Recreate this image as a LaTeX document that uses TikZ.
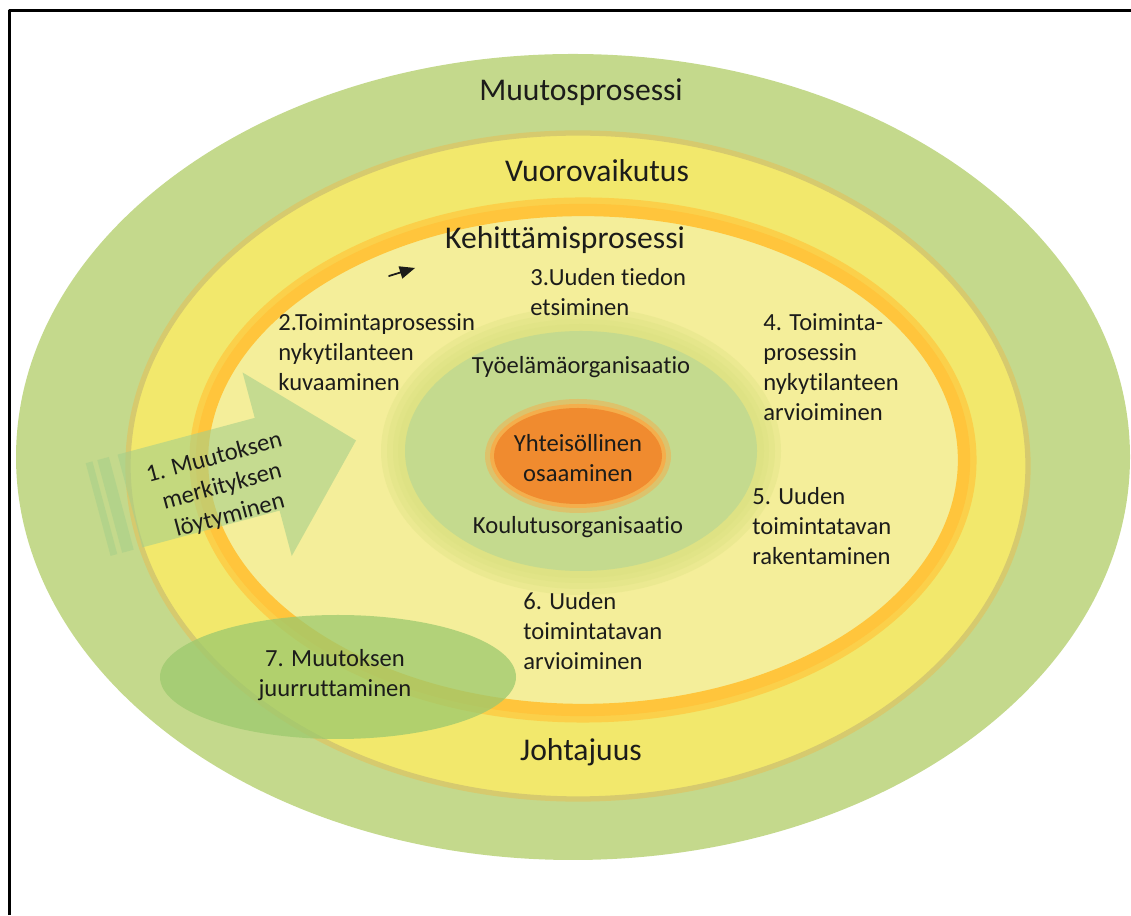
\documentclass[tikz,border=0pt]{standalone}
\usepackage{fontspec}
\setmainfont{Carlito}[Ligatures=NoCommon]
\usepackage{pgf,tikz}
\usetikzlibrary{arrows}
\usetikzlibrary{positioning}

\definecolor{outergreen}{HTML}{C4D98C}
\definecolor{olivering}{HTML}{D6CA6E}
\definecolor{bandyellow}{HTML}{F2E86C}
\definecolor{ringorange}{HTML}{FFC53C}
\definecolor{lightyellow}{HTML}{F4EE9A}
\definecolor{halogreen}{HTML}{D8E07E}
\definecolor{innergreen}{HTML}{C4DA8E}
\definecolor{coreorange}{HTML}{F08B2F}
\definecolor{coreglow}{HTML}{F4AE4C}
\definecolor{arrowgreen}{HTML}{A6CF8A}
\definecolor{rootgreen}{HTML}{9CC96E}
\definecolor{labeltext}{HTML}{1C1C1A}

\tikzset{
  bandlabel/.style={font=\fontsize{18}{22}\selectfont,text=labeltext,inner sep=0pt},
  stagelabel/.style={font=\fontsize{14}{17}\selectfont,text=labeltext,align=left,inner sep=0pt,anchor=west},
  orglabel/.style={font=\fontsize{14}{17}\selectfont,text=labeltext,align=center,inner sep=0pt}
}

\begin{document}
\begin{tikzpicture}[line cap=round,line join=round,>=triangle 45,x=0.02cm,y=0.02cm]
\useasboundingbox (0,0) rectangle (1131,915);
\draw[line width=0.06cm,line cap=butt] (9.5,0) -- (9.5,904) -- (1131,904);
% nested rings
\fill[outergreen] (573,458) ellipse [x radius=557, y radius=403];
\draw[olivering,line width=3,fill=bandyellow] (578,449) ellipse [x radius=450, y radius=333];
\draw[ringorange!70!bandyellow,line width=12] (583,455) ellipse [x radius=383, y radius=252];
\draw[ringorange,line width=7,fill=lightyellow] (583,455) ellipse [x radius=381, y radius=250];
% organisations and core
\foreach \r in {22,16,10,5}
  \fill[halogreen,opacity=0.3] (581,464) ellipse [x radius=178+\r, y radius=122+\r];
\fill[innergreen] (581,464) ellipse [x radius=176, y radius=120];
\fill[coreglow,opacity=0.5] (578,459) ellipse [x radius=93, y radius=57];
\fill[coreglow] (578,459) ellipse [x radius=88, y radius=52];
\fill[coreorange] (578,459) ellipse [x radius=84, y radius=48];
% stage 1 arrow
\begin{scope}[shift={(130,414)},rotate=15]
\fill[arrowgreen,opacity=0.6] (0,-48) -- (142,-48) -- (142,-95) -- (234,0) -- (142,95) -- (142,48) -- (0,48) -- cycle;
\fill[arrowgreen,opacity=0.55] (-33,-48) rectangle (-26,48);
\fill[arrowgreen,opacity=0.55] (-21,-48) rectangle (-9,48);
\end{scope}
% stage 7 ellipse
\fill[rootgreen,opacity=0.75] (338,238) ellipse [x radius=178, y radius=62];
% band labels
\node[bandlabel] (muutos) at (581,823) {Muutosprosessi};
\node[bandlabel] (vuoro) at (597,744) {Vuorovaikutus};
\node[bandlabel] (kehitys) at (565,675) {Kehittämisprosessi};
\node[bandlabel] (johtajuus) at (581,163) {Johtajuus};
% organisation labels
\node[orglabel] (tyoelama) at (581,548) {Työelämäorganisaatio};
\node[orglabel] (koulutus) at (578,388) {Koulutusorganisaatio};
\node[orglabel] (osaaminen) at (578,457) {Yhteisöllinen\\osaaminen};
% stages
\node[orglabel,rotate=15] (vaihe1) at (222,428) {1. Muutoksen\\merkityksen\\löytyminen};
\node[stagelabel] (vaihe2) at (278,563) {2.Toimintaprosessin\\nykytilanteen\\kuvaaminen};
\node[stagelabel] (vaihe3) at (530,623) {3.Uuden tiedon\\etsiminen};
\node[stagelabel] (vaihe4) at (763,548) {4. Toiminta-\\prosessin\\nykytilanteen\\arvioiminen};
\node[stagelabel] (vaihe5) at (752,389) {5. Uuden\\toimintatavan\\rakentaminen};
\node[stagelabel] (vaihe6) at (523,284) {6. Uuden\\toimintatavan\\arvioiminen};
\node[orglabel] (vaihe7) at (335,240) {7. Muutoksen\\juurruttaminen};
% small arrow
\coordinate (kulku0) at (389,639);
\coordinate (kulku1) at (415,647);
\draw[->,line width=1pt,color=labeltext] (kulku0) -- (kulku1);
\end{tikzpicture}
\end{document}
